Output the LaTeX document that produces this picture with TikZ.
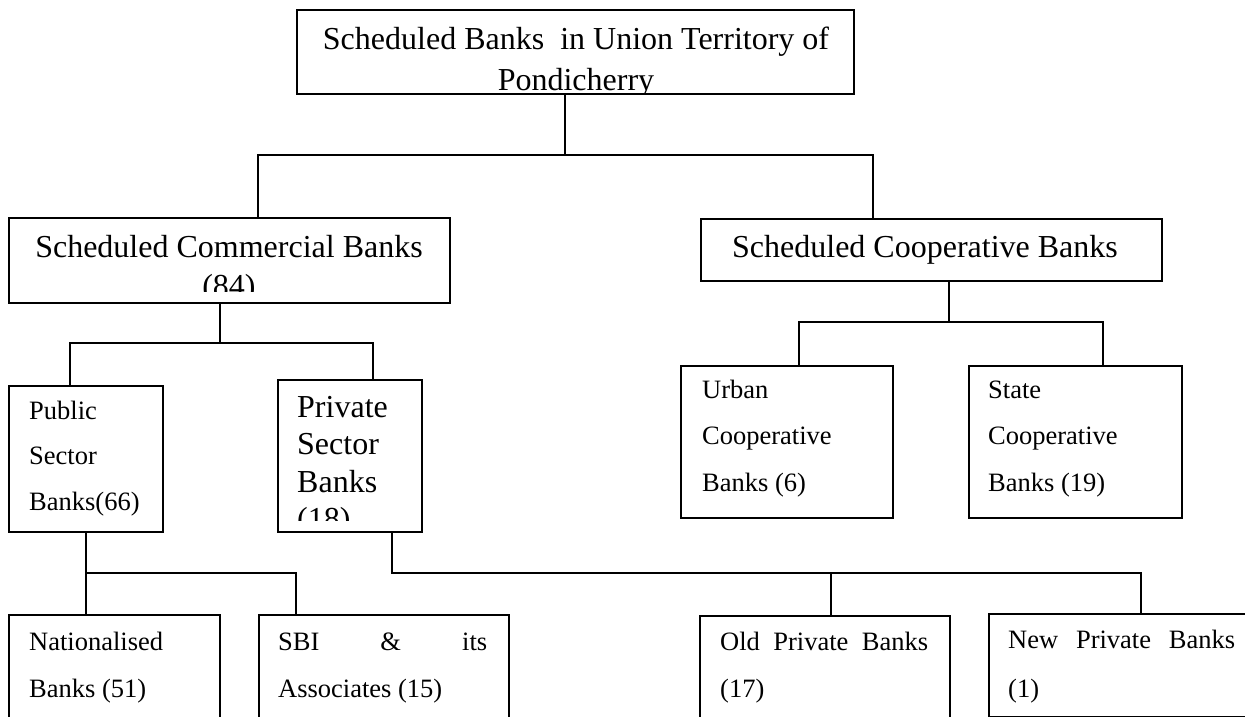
\documentclass[tikz,border=0pt]{standalone}
\usepackage{fontspec}
\setmainfont{Liberation Serif}

\newcommand{\bigfont}{\fontsize{32}{40}\selectfont}
\newcommand{\smallfont}{\fontsize{26.5}{46.5}\selectfont}

\begin{document}
\begin{tikzpicture}[x=1pt, y=-1pt,
		box/.style={draw, line width=1.6pt, anchor=north west, inner sep=0pt},
		txt/.style={anchor=base west, inner sep=0pt},
		link/.style={line width=1.6pt}]
		\useasboundingbox (0,0) rectangle (1245,717);
		\clip (0,0) rectangle (1245,717);
		\foreach \n/\x/\y/\w/\h in {bu/296/9/557/84, sc/8/217/441/85, cb/700/218/461/62,
			pub/8/385/154/146, prb/277/379/144/152, ub/680/365/212/152, stb/968/365/213/152,
			nb/8/614/211/150, sbi/258/614/250/150, opb/699/615/250/150, npb/988/613/300/103} {
			\node[box, minimum width=\w pt, minimum height=\h pt] (\n) at (\x,\y) {};
		}

		\begin{scope}
			\clip ([yshift=2pt]bu.south west) rectangle (bu.north east);
			\node[txt, anchor=base, font=\bigfont] (bu-t) at (576,50) {\parbox[t]{540pt}{\centering Scheduled Banks~ in Union Territory of\\Pondicherry}};
		\end{scope}
		\begin{scope}
			\clip ([yshift=12pt]sc.south west) rectangle (sc.north east);
			\node[txt, anchor=base, font=\fontsize{32}{39}\selectfont] (sc-t) at (229,257) {\parbox[t]{420pt}{\centering Scheduled Commercial Banks\\(84)}};
		\end{scope}
		\node[txt, anchor=base, font=\bigfont] (cb-t) at (925,257) {Scheduled Cooperative Banks};
		\begin{scope}
			\clip ([yshift=12pt]prb.south west) rectangle (prb.north east);
			\node[txt, font=\fontsize{32}{37.5}\selectfont] (prb-t) at (297,417) {\parbox[t]{120pt}{Private\\Sector\\Banks\\(18)}};
		\end{scope}

		\node[txt, font=\fontsize{26.5}{45.5}\selectfont] (pub-t) at (29,419) {\parbox[t]{130pt}{Public\\Sector\\Banks(66)}};
		\node[txt, font=\smallfont] (ub-t) at (702,398) {\parbox[t]{185pt}{Urban\\Cooperative\\Banks (6)}};
		\node[txt, font=\smallfont] (stb-t) at (988,398) {\parbox[t]{185pt}{State\\Cooperative\\Banks (19)}};
		\node[txt, font=\fontsize{26.5}{47}\selectfont] (nb-t) at (29,650) {\parbox[t]{185pt}{Nationalised\\Banks (51)}};
		\node[txt, font=\fontsize{26.5}{47}\selectfont] (sbi-t) at (278,650) {\parbox[t]{209pt}{SBI\hfill\&\hfill its\\Associates (15)}};
		\node[txt, font=\fontsize{26.5}{47}\selectfont] (opb-t) at (720,650) {\parbox[t]{208pt}{Old\hfill Private\hfill Banks\\(17)}};
		\node[txt, font=\fontsize{26.5}{49}\selectfont] (npb-t) at (1008,648) {\parbox[t]{227pt}{New\hfill Private\hfill Banks\\(1)}};

		\coordinate (j1) at (565,155);
		\coordinate (j1l) at (258,155);
		\coordinate (j1r) at (873,155);
		\coordinate (j2) at (220,343);
		\coordinate (j2l) at (70,343);
		\coordinate (j2r) at (373,343);
		\coordinate (j3) at (949,322);
		\coordinate (j3l) at (799,322);
		\coordinate (j3r) at (1103,322);
		\coordinate (j4) at (86,573);
		\coordinate (j4r) at (296,573);
		\coordinate (j5) at (392,573);
		\coordinate (j5m) at (831,573);
		\coordinate (j5r) at (1141,573);

		\draw[link] (bu.south -| j1) -- (j1);
		\draw[link] (sc.north -| j1l) -- (j1l) -- (j1r) -- (cb.north -| j1r);
		\draw[link] (sc.south -| j2) -- (j2);
		\draw[link] (pub.north -| j2l) -- (j2l) -- (j2r) -- (prb.north -| j2r);
		\draw[link] (cb.south -| j3) -- (j3);
		\draw[link] (ub.north -| j3l) -- (j3l) -- (j3r) -- (stb.north -| j3r);
		\draw[link] (pub.south -| j4) -- (j4) -- (j4r) -- (sbi.north -| j4r);
		\draw[link] (j4) -- (nb.north -| j4);
		\draw[link] (prb.south -| j5) -- (j5) -- (j5r) -- (npb.north -| j5r);
		\draw[link] (j5m) -- (opb.north -| j5m);
	\end{tikzpicture}
\end{document}
